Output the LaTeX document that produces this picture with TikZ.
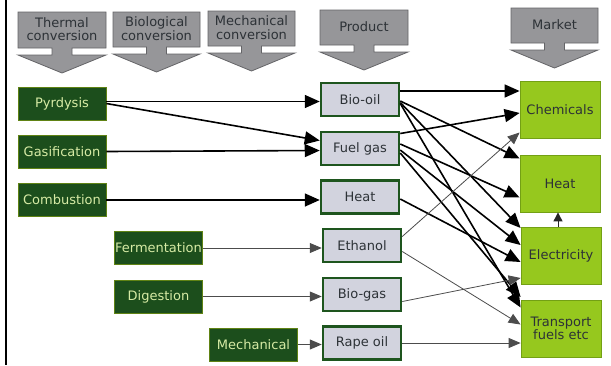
\documentclass[tikz,border=0pt]{standalone}
\usepackage{fontspec}
\setmainfont{DejaVu Sans}
\usetikzlibrary{arrows.meta, positioning}

\definecolor{procgreen}{RGB}{28,78,28}
\definecolor{proctext}{RGB}{215,235,165}
\definecolor{prodfill}{RGB}{210,211,222}
\definecolor{prodedge}{RGB}{30,85,30}
\definecolor{mktfill}{RGB}{150,200,30}
\definecolor{mktedge}{RGB}{115,160,20}
\definecolor{hdrfill}{RGB}{150,150,153}
\definecolor{hdredge}{RGB}{100,100,103}
\definecolor{txtdark}{RGB}{45,50,55}

\begin{document}
\begin{tikzpicture}[x=1pt, y=-1pt,
    every node/.style={font=\fontsize{13}{13.5}\selectfont, inner sep=0pt, align=center},
    hdrarrow/.style={fill=hdrfill, draw=hdredge, line width=0.8pt},
    hdrtext/.style={text=txtdark},
    procbox/.style={rectangle, fill=procgreen, draw=procgreen!70!yellow, line width=0.6pt,
        minimum width=88pt, minimum height=33pt, text=proctext},
    prodbox/.style={rectangle, fill=prodfill, draw=prodedge, line width=2.5pt,
        minimum width=78pt, minimum height=33pt, text=txtdark},
    mktbox/.style={rectangle, fill=mktfill, draw=mktedge, line width=0.8pt,
        minimum width=80pt, minimum height=57pt, text=txtdark},
    flow/.style={draw=black, line width=1.6pt, -{Triangle[length=15pt,width=13pt]}},
    thinflow/.style={draw=black!70, line width=0.8pt, -{Triangle[length=12pt,width=10pt]}},
    upflow/.style={draw=black!85, line width=1pt, -{Triangle[length=9pt,width=9pt]}}]
    \useasboundingbox (0,0) rectangle (611,365);
    \fill[white] (0,0) rectangle (611,365);
    % 左边框
    \draw[line width=2pt] (6,0) -- (6,365);

    % 上方箭头标题
    \foreach \xa/\ya/\xb/\yb/\nm/\txt in {18/12/106/48/thermal/{Thermal\\conversion},
        113/12/200/47/biological/{Biological\\conversion},
        208/11/295/46/mechanical/{Mechanical\\conversion},
        320/10/408/45/product/Product, 511/8/598/43/market/Market} {
        \pgfmathsetmacro\hx{(\xa+\xb)/2}
        \draw[hdrarrow] (\xa,\ya) -- (\xb,\ya) -- (\xb,\yb) -- (\hx+10,\yb) -- (\hx+10,\yb+7)
            -- (\xb,\yb+7) -- (\hx,\yb+25) -- (\xa,\yb+7) -- (\hx-10,\yb+7) -- (\hx-10,\yb)
            -- (\xa,\yb) -- cycle;
        \node[hdrtext] (\nm) at (\hx,{(\ya+\yb)/2-1}) {\txt};
    }

    % 转化方式
    \node[procbox] (pyro)    at (62,103.5)   {Pyrdysis};
    \node[procbox] (gasif)   at (62,151.5)   {Gasification};
    \node[procbox] (combust) at (62,200)     {Combustion};
    \node[procbox] (ferm)    at (158.5,248)  {Fermentation};
    \node[procbox] (digest)  at (158.5,296.5) {Digestion};
    \node[procbox] (mech)    at (253.5,344.5) {Mechanical};

    % 产品
    \node[prodbox] (biooil)  at (360,99.5)  {Bio-oil};
    \node[prodbox] (fuelgas) at (360,148.5) {Fuel gas};
    \node[prodbox] (heatp)   at (360,197)   {Heat};
    \node[prodbox] (ethanol) at (362,245.5) {Ethanol};
    \node[prodbox] (biogas)  at (362,294.5) {Bio-gas};
    \node[prodbox] (rapeoil) at (362,343)   {Rape oil};

    % 市场
    \node[mktbox] (chem)   at (560,109.5) {Chemicals};
    \node[mktbox] (heatm)  at (560,183.5) {Heat};
    \node[mktbox] (elec)   at (561,256)   {Electricity};
    \node[mktbox] (transp) at (561,328.5) {Transport\\fuels etc};

    % 转化 -> 产品
    \draw[flow] ([yshift=2pt]pyro.east) -- ([yshift=-2pt]biooil.west);
    \draw[flow] (pyro.east) -- ([yshift=8pt]fuelgas.west);
    \draw[flow] (gasif.east) -- ([yshift=-2pt]fuelgas.west);
    \draw[flow] (combust.east) -- ([yshift=-3pt]heatp.west);
    \draw[thinflow] (ferm.east) -- ([yshift=-2.5pt]ethanol.west);
    \draw[thinflow] (digest.east) -- ([yshift=-2pt]biogas.west);
    \draw[thinflow, line width=1.1pt] (mech.east) -- ([yshift=-1.5pt]rapeoil.west);

    % 产品 -> 市场
    \draw[flow] ([yshift=8.5pt]biooil.east) -- ([yshift=18.5pt]chem.west);
    \draw[flow] ([yshift=-1.5pt]biooil.east) -- ([yshift=25pt]heatm.west);
    \draw[flow] ([yshift=-3pt]biooil.east) -- ([yshift=28pt]elec.west);
    \draw[flow] ([yshift=-4pt]biooil.east) -- ([yshift=21pt]transp.west);
    \draw[flow] ([yshift=15pt]fuelgas.east) -- ([yshift=-3.5pt]chem.west);
    \draw[flow] ([yshift=4.5pt]fuelgas.east) -- ([yshift=-14pt]heatm.west);
    \draw[flow] ([yshift=-1.5pt]fuelgas.east) -- ([yshift=11pt]elec.west);
    \draw[flow] ([yshift=-4.5pt]fuelgas.east) -- ([yshift=31.5pt]transp.west);
    \draw[flow] ([yshift=-2pt]heatp.east) -- ([yshift=-6pt]elec.west);
    \draw[thinflow] ([yshift=9pt]ethanol.east) -- ([yshift=-23pt]chem.west);
    \draw[thinflow] ([yshift=-6pt]ethanol.east) -- ([yshift=4pt]transp.west);
    \draw[thinflow] ([yshift=-7pt]biogas.east) -- ([yshift=-22pt]elec.west);
    \draw[thinflow] (rapeoil.east) -- ([yshift=-14.5pt]transp.west);
    \draw[upflow] ([xshift=-3pt]elec.north) -- ([xshift=-2pt]heatm.south);
\end{tikzpicture}
\end{document}
